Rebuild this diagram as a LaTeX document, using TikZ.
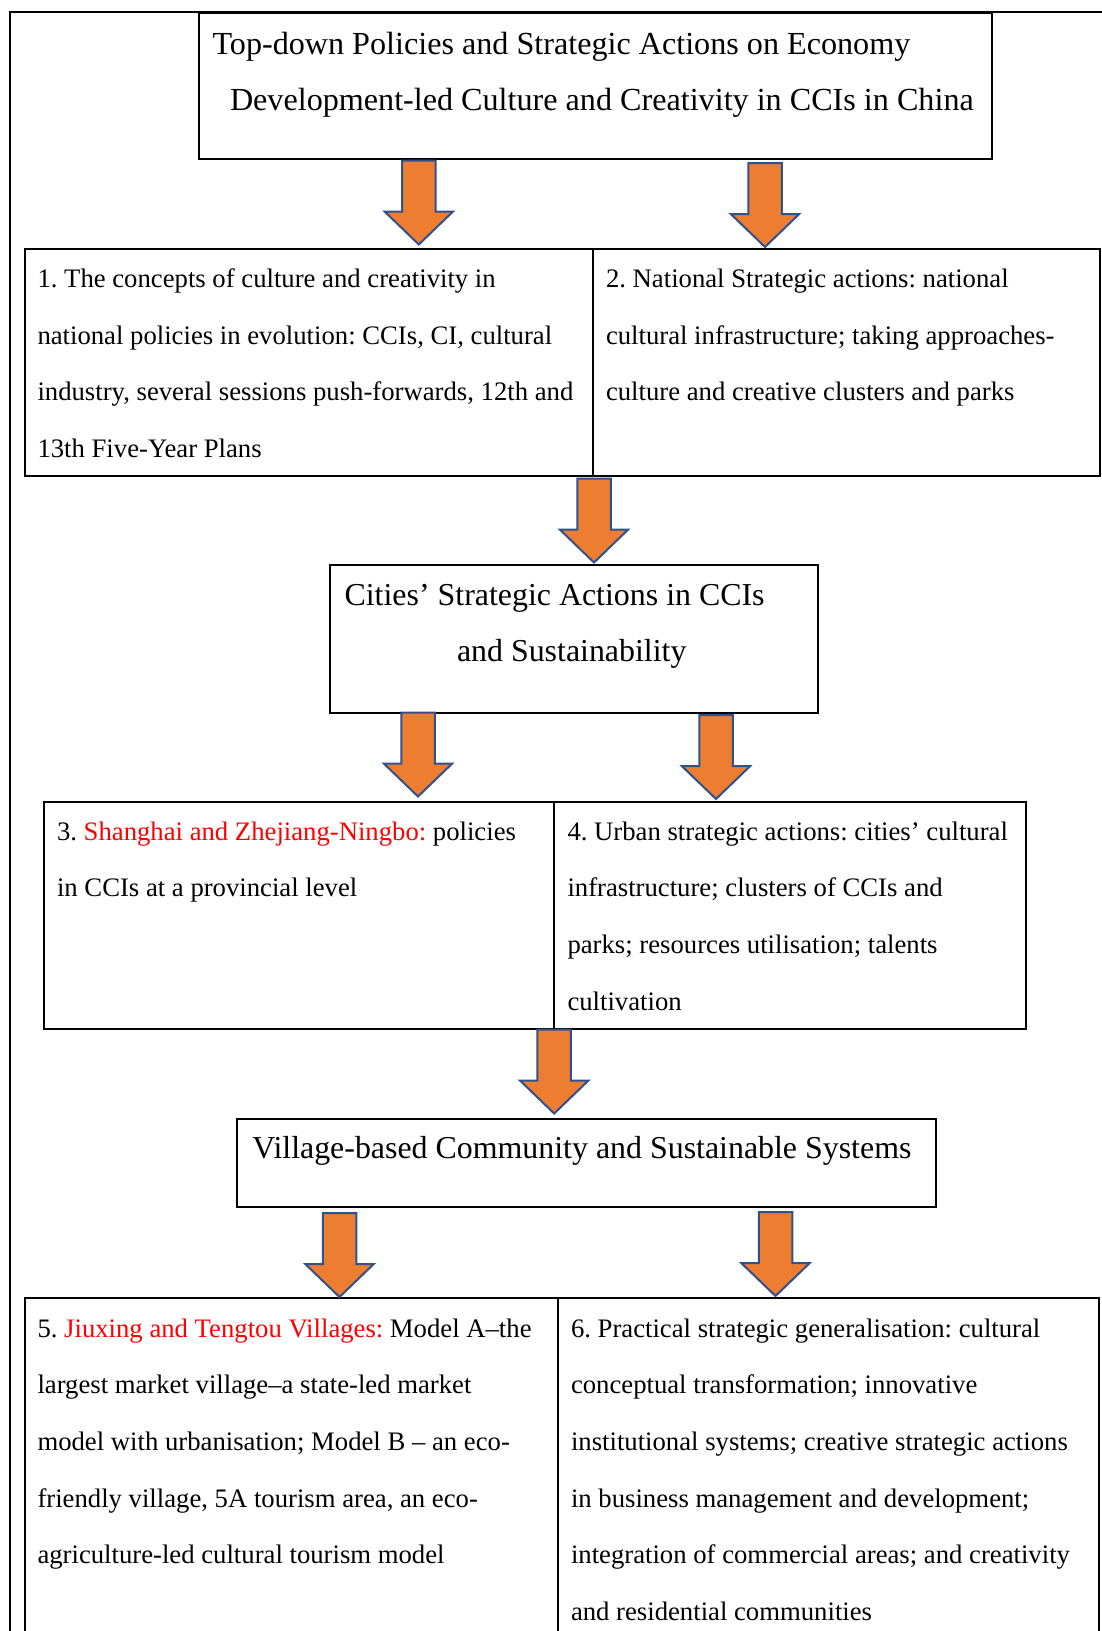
\documentclass[tikz,border=0pt]{standalone}
\usepackage{fontspec}
\setmainfont{Liberation Serif}
\frenchspacing
\definecolor{arroworange}{HTML}{ED7D31}
\definecolor{arrowblue}{HTML}{2F528F}
\definecolor{hilite}{HTML}{FF0000}
% stacked lines with a fixed baseline distance; the box baseline is the first line's
\newcommand\textlines[1]{\vtop{\baselineskip=56.7pt\lineskip=0pt\lineskiplimit=-\maxdimen
  \halign{##\hfil\cr#1\crcr}}}
\begin{document}
\begin{tikzpicture}[x=1pt,y=-1pt,
  box/.style={draw,line width=2pt,inner sep=0pt,outer sep=0pt,anchor=north west},
  txt/.style={inner sep=0pt,outer sep=0pt,anchor=base west},
  body/.style={font=\fontsize{26.7}{56.7}\selectfont},
  head/.style={font=\fontsize{31.9}{56.7}\selectfont},
  title/.style={font=\fontsize{32.15}{56.7}\selectfont},
  blockarrow/.style={fill=arroworange,draw=arrowblue,line width=2pt,line join=miter},
  blockdown/.pic={\draw[blockarrow] (-16.75,0) -- (16.75,0) -- (16.75,51) -- (34.25,51)
     -- (0,84) -- (-34.25,51) -- (-16.75,51) -- cycle;}]
\useasboundingbox (0,0) rectangle (1102,1631);
\clip (0,0) rectangle (1102,1631);

% outer frame
\draw[line width=2pt] (10,1700) -- (10,11.5) -- (1200,11.5);

% boxes
\node[box,minimum width=793pt,minimum height=145.7pt] (topbox) at (199,13.3) {};
\node[box,minimum width=567.7pt,minimum height=227.5pt] (b1) at (25,248.5) {};
\node[box,minimum width=507.3pt,minimum height=227.5pt] (b2) at (592.7,248.5) {};
\node[box,minimum width=488.3pt,minimum height=148pt] (cities) at (329.7,564.5) {};
\node[box,minimum width=510.3pt,minimum height=227pt] (b3) at (43.7,802) {};
\node[box,minimum width=472pt,minimum height=227pt] (b4) at (554,802) {};
\node[box,minimum width=699pt,minimum height=88.3pt] (village) at (237,1119) {};
\node[box,minimum width=532.5pt,minimum height=400pt] (b5) at (25,1297.5) {};
\node[box,minimum width=541.5pt,minimum height=400pt] (b6) at (557.5,1297.5) {};

% block arrows
\pic at (418.8,160.5) {blockdown};
\pic at (765,163) {blockdown};
\pic at (594,478.5) {blockdown};
\pic at (418,712.5) {blockdown};
\pic at (716,715) {blockdown};
\pic at (554.2,1029.5) {blockdown};
\pic at (339.5,1213) {blockdown};
\pic at (775.5,1212) {blockdown};

% texts
\node[txt,title] (tTop) at (212.5,54) {\textlines{Top-down Policies and Strategic Actions on Economy\cr
  \hspace{17.5pt}Development-led Culture and Creativity in CCIs in China}};
\node[txt,body] (t1) at (37.5,287.5) {\textlines{1. The concepts of culture and creativity in\cr
  national policies in evolution: CCIs, CI, cultural\cr
  industry, several sessions push-forwards, 12th and\cr
  13th Five-Year Plans}};
\node[txt,body] (t2) at (606,287.5) {\textlines{2. National Strategic actions: national\cr
  cultural infrastructure; taking approaches-\cr
  culture and creative clusters and parks}};
\node[txt,head] (tCities) at (344.6,605) {\textlines{Cities’ Strategic Actions in CCIs\cr
  \hspace{112.4pt}and Sustainability}};
\node[txt,body] (t3) at (57,840) {\textlines{3. \textcolor{hilite}{Shanghai and Zhejiang-Ningbo:} policies\cr
  in CCIs at a provincial level}};
\node[txt,body] (t4) at (567.5,840) {\textlines{4. Urban strategic actions: cities’ cultural\cr
  infrastructure; clusters of CCIs and\cr
  parks; resources utilisation; talents\cr
  cultivation}};
\node[txt,head] (tVillage) at (252.4,1158.3) {Village-based Community and Sustainable Systems};
\node[txt,body] (t5) at (37.5,1337) {\textlines{5. \textcolor{hilite}{Jiuxing and Tengtou Villages:} Model A–the\cr
  largest market village–a state-led market\cr
  model with urbanisation; Model B – an eco-\cr
  friendly village, 5A tourism area, an eco-\cr
  agriculture-led cultural tourism model}};
\node[txt,body] (t6) at (571,1337) {\textlines{6. Practical strategic generalisation: cultural\cr
  conceptual transformation; innovative\cr
  institutional systems; creative strategic actions\cr
  in business management and development;\cr
  integration of commercial areas; and creativity\cr
  and residential communities}};
\end{tikzpicture}
\end{document}
